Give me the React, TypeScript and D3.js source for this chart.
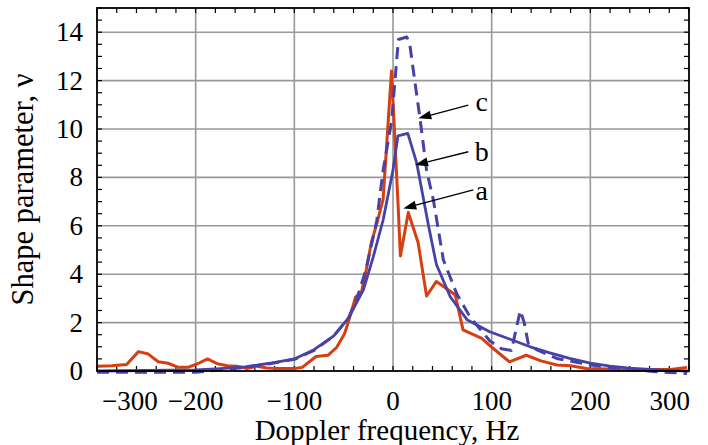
import React from "react";
import * as d3 from "d3";

const redX = [-300, -285, -270, -258, -248, -238, -228, -218, -208, -198, -188, -178, -168, -158, -148, -138, -128, -118, -100, -92, -78, -66, -57, -49, -44, -38, -32, -27, -22, -17, -10, -1.5, 5, 7.5, 15.5, 25.5, 34, 44, 63, 71, 90, 101, 118, 135, 150, 166, 180, 196, 216, 243, 260, 281, 298];
const redY = [0.2, 0.22, 0.27, 0.8, 0.7, 0.38, 0.32, 0.16, 0.15, 0.3, 0.5, 0.3, 0.22, 0.2, 0.1, 0.2, 0.12, 0.1, 0.1, 0.15, 0.6, 0.65, 0.98, 1.55, 2.2, 3.05, 3.25, 4.2, 5.3, 6.0, 7.1, 12.4, 7.0, 4.75, 6.55, 5.3, 3.1, 3.7, 3.15, 1.7, 1.35, 0.95, 0.38, 0.65, 0.42, 0.25, 0.22, 0.1, 0.08, 0.03, 0.06, 0.06, 0.15];

const bX = [-300, -250, -200, -175, -150, -125, -100, -80, -60, -45, -30, -20, -10, 0, 5, 15, 24, 30, 36, 44, 58, 75, 98, 118, 139, 159, 179, 200, 220, 240, 260, 280, 300];
const bY = [0.0, 0.02, 0.05, 0.1, 0.17, 0.32, 0.5, 0.88, 1.45, 2.2, 3.35, 4.72, 6.24, 8.3, 9.72, 9.82, 8.6, 7.3, 6.0, 4.4, 3.07, 2.12, 1.62, 1.32, 1.0, 0.75, 0.52, 0.33, 0.2, 0.12, 0.07, 0.03, 0.0];

const cX = [-300, -250, -200, -175, -150, -125, -100, -80, -60, -45, -37, -28, -23, -16.5, -10, -1.5, 5.5, 14, 17, 22, 27.5, 34, 41, 51, 64.5, 78, 98, 110, 120, 129, 133, 137, 146, 166, 186, 206, 227, 247, 267, 298];
const cY = [-0.05, -0.05, -0.05, 0.05, 0.15, 0.3, 0.48, 0.85, 1.45, 2.2, 2.95, 4.1, 5.0, 6.2, 8.3, 10.3, 13.7, 13.8, 13.5, 12.0, 10.4, 8.3, 7.05, 4.6, 3.2, 2.24, 1.25, 0.92, 0.85, 2.5, 2.0, 1.15, 0.87, 0.52, 0.36, 0.22, 0.11, 0.04, -0.03, -0.1];

const xTicks = [-300, -200, -100, 0, 100, 200, 300];
const xTickLabels = ["\u2212300", "\u2212200", "\u2212100", "0", "100", "200", "300"];
const yTicks = [0, 2, 4, 6, 8, 10, 12, 14];
const yTickLabels = ["0", "2", "4", "6", "8", "10", "12", "14"];

const annLabels = ["c", "b", "a"];
const annText = [[90, 11.06], [90, 9.0], [90, 7.41]];
const annFrom = [[76.3, 10.99], [76.3, 9.06], [81.4, 7.48]];
const annTo = [[25.6, 10.44], [22.3, 8.51], [10.4, 6.72]];

const RED = "#d63f12";
const BLUE = "#4642a8";
const FONT = "'Liberation Serif', 'Times New Roman', serif";

export default function App() {
  const W = 708, H = 445;
  const x = d3.scaleLinear().domain([-300, 300]).range([97, 689]);
  const y = d3.scaleLinear().domain([0, 15]).range([371, 8]);
  const line = d3.line<[number, number]>().x(d => x(d[0])).y(d => y(d[1]));
  const red = line(redX.map((v, i) => [v, redY[i]]) as [number, number][]) || "";
  const b = line(bX.map((v, i) => [v, bY[i]]) as [number, number][]) || "";
  const c = line(cX.map((v, i) => [v, cY[i]]) as [number, number][]) || "";
  const [x0, x1] = x.range();
  const [y0, y1] = y.range();
  const minorX = d3.range(-300, 301, 20);
  const minorY = d3.range(0, 15.01, 0.5);
  const tl = 5;
  const nX = xTicks.length;

  return (
    <svg width={W} height={H} style={{ position: "absolute", left: 0, top: 0 }} fontFamily={FONT}>
      <rect x={0} y={0} width={W} height={H} fill="white" />
      {/* grid */}
      {xTicks.slice(1, -1).map(t => (
        <line key={"gx" + t} x1={x(t)} x2={x(t)} y1={y1} y2={y0} stroke="#999" strokeWidth={1.6} />
      ))}
      {yTicks.slice(1).map(t => (
        <line key={"gy" + t} x1={x0} x2={x1} y1={y(t)} y2={y(t)} stroke="#999" strokeWidth={1.6} />
      ))}
      {/* minor ticks */}
      {minorX.map(t => (
        <g key={"mx" + t}>
          <line x1={x(t)} x2={x(t)} y1={y0} y2={y0 - tl} stroke="#000" strokeWidth={1.2} />
          <line x1={x(t)} x2={x(t)} y1={y1} y2={y1 + tl} stroke="#000" strokeWidth={1.2} />
        </g>
      ))}
      {minorY.map(t => (
        <g key={"my" + t}>
          <line x1={x0} x2={x0 + tl} y1={y(t)} y2={y(t)} stroke="#000" strokeWidth={1.2} />
          <line x1={x1} x2={x1 - tl} y1={y(t)} y2={y(t)} stroke="#000" strokeWidth={1.2} />
        </g>
      ))}
      {/* curves */}
      <path d={red} fill="none" stroke={RED} strokeWidth={3} strokeLinejoin="round" />
      <path d={b} fill="none" stroke={BLUE} strokeWidth={2.8} strokeLinejoin="round" />
      <path d={c} fill="none" stroke={BLUE} strokeWidth={3} strokeDasharray="12,7" strokeLinejoin="round" />
      {/* frame */}
      <rect x={x0} y={y1} width={x1 - x0} height={y0 - y1} fill="none" stroke="#000" strokeWidth={1.8} />
      {/* tick labels */}
      {xTicks.map((t, i) => {
        const anchor = i === 0 ? "start" : i === nX - 1 ? "end" : "middle";
        const px = i === 0 ? x(t) + 5 : i === nX - 1 ? x(t) + 1 : x(t);
        return (
          <text key={"xl" + t} x={px} y={410} textAnchor={anchor} fontSize={27} fill="#000">{xTickLabels[i]}</text>
        );
      })}
      {yTicks.map((t, i) => (
        <text key={"yl" + t} x={83} y={y(t) + 9} textAnchor="end" fontSize={27} fill="#000">{yTickLabels[i]}</text>
      ))}
      <text x={(x0 + x1) / 2 - 6} y={440} textAnchor="middle" fontSize={29} fill="#000">Doppler frequency, Hz</text>
      <text transform={`translate(33,${(y0 + y1) / 2}) rotate(-90)`} textAnchor="middle" fontSize={30.5} fill="#000">Shape parameter, ν</text>
      {/* annotations */}
      {annLabels.map((l, i) => {
        const fx = x(annFrom[i][0]), fy = y(annFrom[i][1]);
        const tx = x(annTo[i][0]), ty = y(annTo[i][1]);
        const ang = Math.atan2(ty - fy, tx - fx);
        const L = 13, Wd = 4.5;
        const bx = tx - L * Math.cos(ang), by = ty - L * Math.sin(ang);
        const p1 = [bx + Wd * Math.sin(ang), by - Wd * Math.cos(ang)];
        const p2 = [bx - Wd * Math.sin(ang), by + Wd * Math.cos(ang)];
        return (
          <g key={"a" + l}>
            <line x1={fx} y1={fy} x2={bx} y2={by} stroke="#000" strokeWidth={1.3} />
            <polygon points={`${tx},${ty} ${p1[0]},${p1[1]} ${p2[0]},${p2[1]}`} fill="#000" />
            <text x={x(annText[i][0])} y={y(annText[i][1]) + 8} textAnchor="middle" fontSize={28} fill="#000">{l}</text>
          </g>
        );
      })}
    </svg>
  );
}
